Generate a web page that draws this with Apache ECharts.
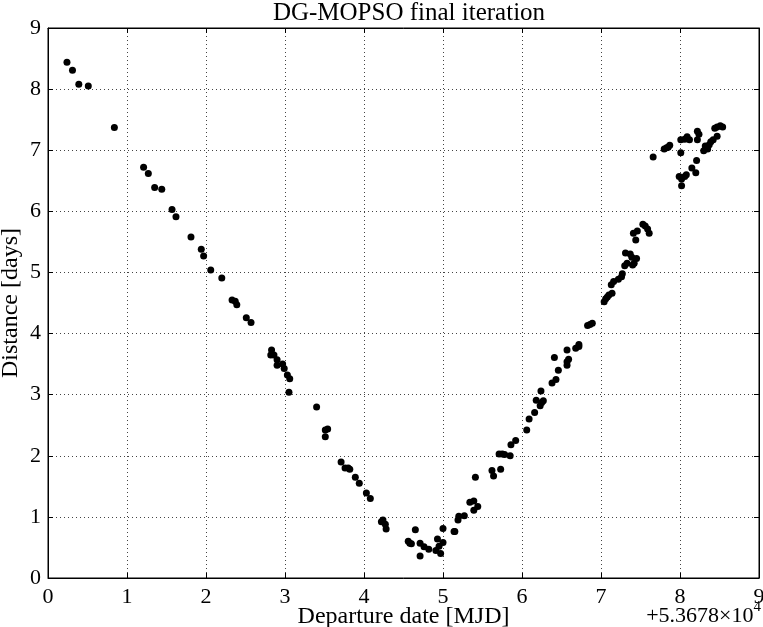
<!DOCTYPE html>
<html>
<head>
<meta charset="utf-8">
<script src="https://cdn.jsdelivr.net/npm/echarts@6/dist/echarts.min.js"></script>
<style>html,body{margin:0;padding:0;background:#fff}#c{width:763px;height:627px}</style>
</head>
<body>
<div id="c"></div>
<script>
const xTicks = [0,1,2,3,4,5,6,7,8,9];
const yTicks = [0,1,2,3,4,5,6,7,8,9];
const depDate = [
0.24,0.31,0.39,0.51,0.84,1.21,1.27,1.35,1.44,1.57,1.62,1.81,1.94,1.97,2.06,2.20,2.33,2.37,2.39,2.51,2.57,
2.83,2.82,2.86,2.90,2.90,2.97,2.99,3.03,3.06,3.05,3.40,3.54,3.51,3.51,
3.71,3.76,3.80,3.82,3.89,3.94,4.03,4.08,4.22,4.24,4.27,4.28,
4.56,4.58,4.60,4.65,4.71,4.71,4.76,4.82,4.91,4.93,4.95,4.97,5.00,5.00,
5.14,5.15,5.19,5.20,5.27,5.34,5.39,5.39,5.44,5.41,5.62,5.64,5.73,5.71,5.75,5.78,5.85,5.86,5.92,
6.06,6.09,6.16,6.23,6.25,6.27,6.18,6.24,6.38,6.43,6.46,6.41,6.57,6.57,6.59,6.57,6.68,6.72,6.72,
6.83,6.86,6.89,7.04,7.06,7.08,7.10,7.14,7.13,7.16,7.22,7.26,7.27,7.30,7.33,7.31,7.37,7.40,7.42,7.39,7.45,
7.41,7.44,7.46,7.53,7.56,7.59,7.61,7.66,7.80,7.83,7.85,7.87,8.01,8.01,8.06,8.09,8.12,7.99,8.02,8.06,8.08,8.02,
8.15,8.20,8.21,8.22,8.24,8.22,8.30,8.32,8.35,8.37,8.39,8.42,8.47,8.44,8.47,8.51,8.54
];
const distance = [
8.44,8.31,8.08,8.05,7.37,6.72,6.62,6.39,6.36,6.03,5.91,5.58,5.38,5.27,5.04,4.91,4.55,4.53,4.47,4.26,4.18,
3.73,3.65,3.65,3.57,3.48,3.50,3.43,3.32,3.26,3.04,2.80,2.44,2.42,2.31,
1.90,1.80,1.80,1.78,1.65,1.55,1.39,1.30,0.92,0.95,0.88,0.80,
0.60,0.57,0.56,0.79,0.57,0.36,0.51,0.47,0.45,0.64,0.52,0.40,0.58,0.81,
0.76,0.76,0.95,1.01,1.02,1.24,1.26,1.11,1.17,1.65,1.76,1.67,1.78,2.03,2.03,2.02,2.00,2.18,2.25,
2.42,2.60,2.71,2.82,2.87,2.90,2.91,3.06,3.19,3.25,3.40,3.61,3.48,3.54,3.58,3.73,3.76,3.79,3.82,
4.13,4.15,4.17,4.52,4.57,4.60,4.63,4.66,4.80,4.85,4.89,4.93,4.98,5.11,5.15,5.32,5.30,5.12,5.15,5.25,5.23,
5.64,5.53,5.68,5.79,5.76,5.71,5.64,6.89,7.02,7.04,7.05,7.08,6.96,7.17,7.18,7.22,7.17,6.57,6.53,6.57,6.60,6.42,
6.71,6.63,6.83,7.31,7.26,7.17,6.99,7.07,7.02,7.09,7.14,7.17,7.23,7.36,7.38,7.40,7.38
];
const titleText = 'DG-MOPSO final iteration';
const xLabel = 'Departure date [MJD]';
const yLabel = 'Distance [days]';

const FONT = '"Liberation Serif", "DejaVu Serif", serif';
const points = depDate.map((x, i) => [x, distance[i]]);
const chart = echarts.init(document.getElementById('c'), null, {renderer: 'canvas'});
const tickStyle = {show: true, inside: true, length: 5, lineStyle: {color: '#000', width: 1}};
const gridLine = {show: true, lineStyle: {color: '#444', width: 1, type: [1, 3]}};
chart.setOption({
  animation: false,
  backgroundColor: '#fff',
  title: {text: titleText, left: 404, top: -4, textAlign: 'center',
    textStyle: {fontFamily: FONT, fontSize: 25, fontWeight: 'normal', color: '#000'}},
  grid: {left: 48, right: 4, top: 28, bottom: 49, show: true, borderColor: '#000', borderWidth: 1,
    containLabel: false, outerBoundsMode: 'none'},
  xAxis: [
    {type: 'value', min: 0, max: 9, interval: 1, position: 'bottom',
     name: xLabel, nameLocation: 'middle', nameGap: 27, nameMoveOverlap: false,
     nameTextStyle: {fontFamily: FONT, fontSize: 24, color: '#000'},
     axisLine: {show: true, onZero: false, lineStyle: {color: '#000'}},
     axisTick: tickStyle,
     axisLabel: {fontFamily: FONT, fontSize: 22, color: '#000', margin: 8,
       formatter: v => xTicks.includes(v) ? String(v) : ''},
     splitLine: gridLine},
    {type: 'value', min: 0, max: 9, interval: 1, position: 'top',
     axisLine: {show: true, onZero: false, lineStyle: {color: '#000'}},
     axisTick: tickStyle, axisLabel: {show: false}, splitLine: {show: false}}
  ],
  yAxis: [
    {type: 'value', min: 0, max: 9, interval: 1, position: 'left',
     name: yLabel, nameLocation: 'middle', nameGap: 25, nameRotate: 90, nameMoveOverlap: false,
     nameTextStyle: {fontFamily: FONT, fontSize: 24, color: '#000'},
     axisLine: {show: true, onZero: false, lineStyle: {color: '#000'}},
     axisTick: tickStyle,
     axisLabel: {fontFamily: FONT, fontSize: 22, color: '#000', margin: 7,
       formatter: v => yTicks.includes(v) ? String(v) : ''},
     splitLine: gridLine},
    {type: 'value', min: 0, max: 9, interval: 1, position: 'right',
     axisLine: {show: true, onZero: false, lineStyle: {color: '#000'}},
     axisTick: tickStyle, axisLabel: {show: false}, splitLine: {show: false}}
  ],
  graphic: [{
    type: 'text', right: 2, top: 600,
    style: {
      text: '{a|+5.3678×10}{s|4}',
      rich: {
        a: {fontFamily: FONT, fontSize: 22, color: '#000', verticalAlign: 'bottom'},
        s: {fontFamily: FONT, fontSize: 15, color: '#000', verticalAlign: 'top', padding: [0, 0, 12, 0]}
      }
    }
  }],
  series: [{
    type: 'scatter', xAxisIndex: 0, yAxisIndex: 0, data: points,
    symbol: 'circle', symbolSize: 7,
    itemStyle: {color: '#000', opacity: 1}
  }]
});
</script>
</body>
</html>
